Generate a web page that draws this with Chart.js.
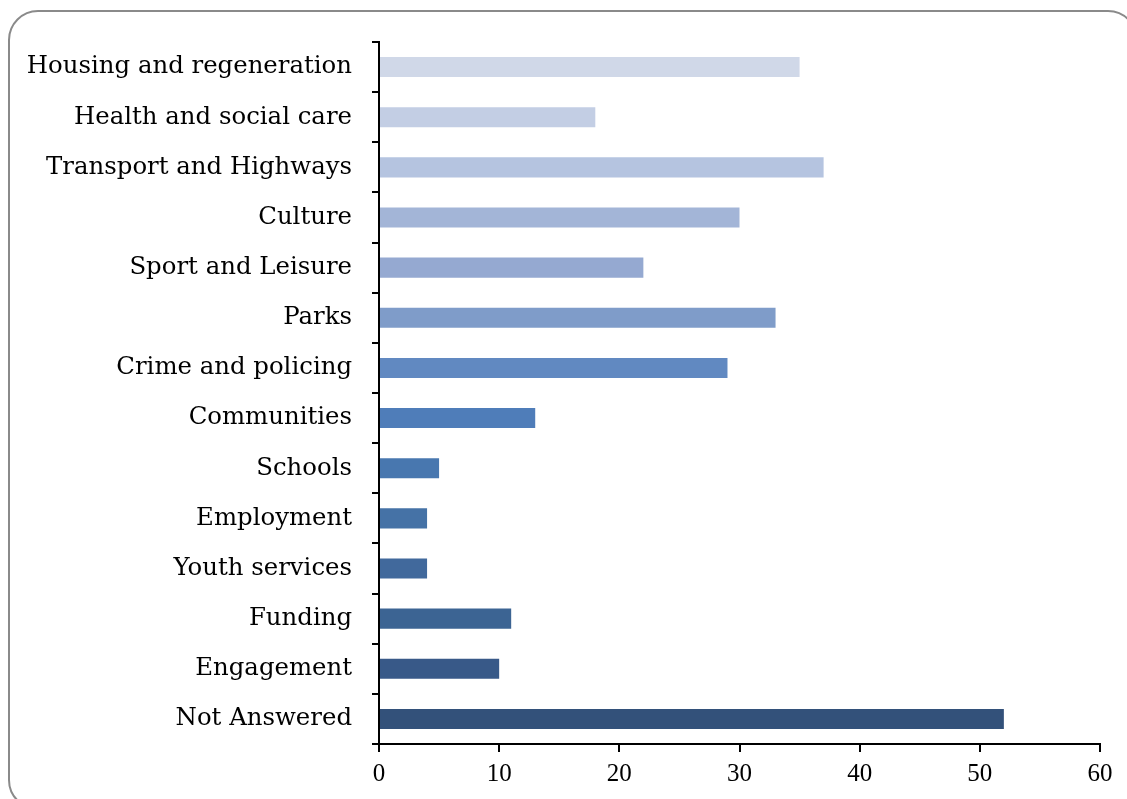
<!DOCTYPE html>
<html>
<head>
<meta charset="utf-8">
<script src="https://cdn.jsdelivr.net/npm/chart.js@4"></script>
<style>
  html, body { margin: 0; padding: 0; background: #fff; overflow: hidden; }
  #frame {
    position: absolute; left: 8px; top: 10px; width: 1130px; height: 800px;
    border: 2px solid #8a8a8a; border-radius: 30px; box-sizing: border-box;
  }
  #wrap { position: absolute; left: 0; top: 0; width: 1127px; height: 799px; }
</style>
</head>
<body>
<div id="frame"></div>
<div id="wrap"><canvas id="chart" width="1127" height="799"></canvas></div>
<script>
const categories = [
  "Housing and regeneration", "Health and social care", "Transport and Highways",
  "Culture", "Sport and Leisure", "Parks", "Crime and policing", "Communities",
  "Schools", "Employment", "Youth services", "Funding", "Engagement", "Not Answered"
];
const responses = [35, 18, 37, 30, 22, 33, 29, 13, 5, 4, 4, 11, 10, 52];
const barColors = [
  "#D0D8E8", "#C3CEE4", "#B5C4E0", "#A3B5D7", "#95A9D1", "#7F9CC9", "#6189C1",
  "#4F7DB9", "#4877AF", "#4572A6", "#41699C", "#3C6493", "#385988", "#33517A"
];
const xTicks = [0, 10, 20, 30, 40, 50, 60];

const labelFont = { family: "'DejaVu Serif', serif", size: 24.4 };
const tickFont = { family: "'Liberation Serif', serif", size: 25 };

new Chart(document.getElementById("chart"), {
  type: "bar",
  data: {
    labels: categories,
    datasets: [{
      data: responses,
      backgroundColor: barColors,
      barPercentage: 0.4,
      categoryPercentage: 1
    }]
  },
  options: {
    indexAxis: "y",
    responsive: false,
    animation: false,
    layout: { padding: { top: 42, right: 27, left: 0, bottom: 0 } },
    plugins: { legend: { display: false }, tooltip: { enabled: false } },
    scales: {
      x: {
        min: 0, max: 60,
        afterBuildTicks: (axis) => { axis.ticks = xTicks.map((v) => ({ value: v })); },
        afterFit: (axis) => { axis.height = 55; },
        border: { display: true, color: "#000", width: 2 },
        grid: { drawOnChartArea: false, drawTicks: true, tickLength: 8, color: "#000", lineWidth: 2 },
        ticks: { color: "#000", font: tickFont, padding: 7 }
      },
      y: {
        afterFit: (axis) => { axis.width = 379; },
        border: { display: true, color: "#000", width: 2 },
        grid: { offset: true, drawOnChartArea: false, drawTicks: true, tickLength: 7, color: "#000", lineWidth: 2 },
        ticks: { color: "#000", font: labelFont, padding: 20, autoSkip: false }
      }
    }
  }
});
</script>
</body>
</html>
